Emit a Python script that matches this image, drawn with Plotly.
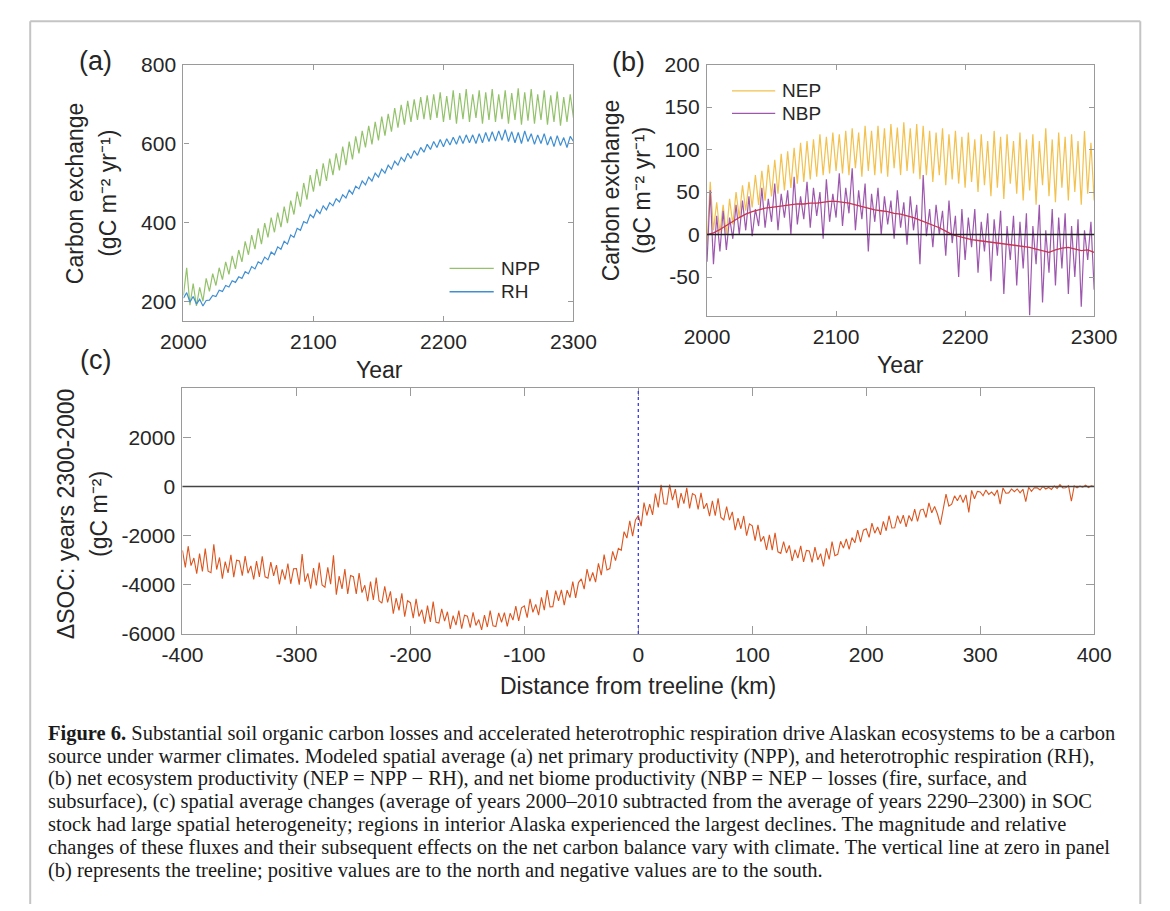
import plotly.graph_objects as go

W, H = 1170, 911


def px(x):
    return x / W


def py(y):
    return 1 - y / H


SANS = "Liberation Sans, Arial, Helvetica, sans-serif"
SERIF = "Liberation Serif, Times New Roman, serif"

# ---------------- data ----------------
# panels (a) and (b): model years, 2.5-year steps 2000..2300
years = [2000 + 2.5 * i for i in range(121)]

npp = [
    215, 285, 190, 245, 188, 235, 200, 258, 225, 270,
    240, 285, 255, 300, 268, 315, 282, 330, 300, 352,
    318, 368, 332, 385, 345, 398, 362, 412, 375, 425,
    388, 440, 398, 455, 420, 478, 440, 500, 458, 520,
    478, 535, 492, 550, 505, 562, 520, 575, 532, 592,
    545, 605, 560, 618, 575, 632, 590, 645, 598, 655,
    608, 668, 620, 675, 630, 690, 640, 698, 648, 708,
    655, 712, 660, 718, 662, 722, 660, 725, 665, 730,
    655, 720, 660, 735, 650, 728, 662, 738, 655, 725,
    665, 735, 650, 730, 660, 738, 655, 725, 662, 735,
    650, 728, 660, 740, 648, 730, 658, 738, 650, 725,
    660, 735, 648, 722, 655, 732, 645, 718, 655, 725,
    665,
]

rh = [
    208, 222, 198, 212, 193, 205, 188, 202, 203, 215,
    212, 228, 225, 240, 236, 252, 248, 262, 258, 275,
    270, 288, 282, 300, 295, 312, 305, 325, 318, 338,
    332, 352, 345, 368, 362, 385, 380, 402, 398, 420,
    412, 432, 422, 442, 432, 450, 442, 460, 452, 470,
    462, 482, 472, 492, 485, 505, 495, 515, 505, 525,
    515, 535, 525, 545, 535, 555, 545, 565, 555, 575,
    562, 582, 570, 590, 578, 598, 585, 605, 590, 610,
    592, 612, 596, 616, 598, 620, 600, 622, 602, 622,
    600, 625, 602, 628, 605, 630, 606, 632, 608, 635,
    605, 630, 602, 628, 600, 632, 605, 625, 598, 622,
    600, 625, 596, 618, 592, 620, 595, 615, 590, 618,
    605,
]

nep = [
    -12, 62, 5, 38, 2, 35, 0, 42, 12, 50,
    20, 58, 28, 62, 32, 70, 35, 75, 40, 82,
    45, 88, 48, 95, 52, 98, 55, 102, 60, 108,
    62, 110, 65, 112, 68, 118, 70, 115, 72, 120,
    75, 118, 72, 122, 70, 125, 78, 120, 68, 128,
    75, 122, 70, 128, 72, 125, 68, 130, 78, 126,
    70, 132, 75, 125, 72, 130, 65, 128, 70, 122,
    62, 120, 70, 125, 58, 118, 65, 122, 60, 115,
    55, 120, 62, 112, 50, 118, 58, 110, 45, 122,
    55, 115, 42, 118, 60, 110, 48, 120, 40, 112,
    52, 118, 35, 110, 58, 125, 45, 112, 38, 120,
    55, 115, 40, 118, 50, 110, 35, 122, 48, 108,
    40,
]

nbp = [
    -32, 52, -35, 22, -20, 28, -18, 20, -5, 35,
    0, 40, 5, 45, -2, 30, 10, 55, 8, 42,
    15, 60, 5, 48, 20, 52, 0, 68, 12, 45,
    18, 62, 8, 55, 22, 50, -5, 65, 15, 48,
    20, 72, 10, 55, 25, 78, 5, 52, 18, 60,
    -20, 48, 15, 55, 0, 45, 12, 40, -5, 52,
    8, 38, -12, 45, 5, 35, -35, 70, -2, 30,
    -15, 35, 0, 28, -25, 40, -10, 22, -50, 30,
    -30, 20, -15, 30, -45, 15, -20, 25, -55, 18,
    -25, 28, -70, 10, -30, 22, -60, 15, -40, 25,
    -95, 10, -35, 35, -80, 5, -45, 30, -60, 20,
    -40, 25, -70, 10, -50, 18, -85, 5, -30, 15,
    -65,
]

# smoothed NBP, 5-year steps
smooth_years = [2000 + 5 * i for i in range(61)]
nbp_smooth = [
    0, 2, 6, 11, 16, 20, 24, 27, 29, 31,
    32, 33, 34, 35, 36, 36, 37, 37, 38, 39,
    39, 38, 37, 35, 33, 31, 29, 28, 27, 25,
    24, 22, 20, 17, 14, 11, 8, 4, 0, -2,
    -4, -6, -7, -8, -9, -10, -11, -12, -13, -14,
    -15, -17, -19, -21, -18, -16, -15, -17, -19, -18,
    -21,
]

# panel (c): distance from treeline, 2.5-km steps -400..400
distance_km = [-400 + 2.5 * i for i in range(321)]
delta_soc = [
    -2600, -3290, -2430, -3220, -2910, -3550, -2730, -3460, -2530, -3450,
    -3510, -2350, -3380, -2890, -3750, -3060, -3520, -2780, -3690, -3000,
    -3030, -3630, -2835, -3530, -3230, -3785, -3040, -3685, -2845, -3675,
    -3730, -3075, -3635, -3200, -3980, -3370, -3795, -3135, -3960, -3350,
    -3340, -4000, -2750, -3880, -3540, -4155, -3320, -4030, -3095, -4010,
    -4100, -3295, -3975, -2800, -4400, -3650, -4165, -3360, -4370, -3620,
    -3670, -4370, -3520, -4320, -4020, -4670, -3870, -4620, -3710, -4650,
    -4750, -4060, -4720, -4270, -5180, -4540, -5040, -4350, -5300, -4650,
    -4730, -5355, -4575, -5290, -5015, -5585, -4850, -5510, -4685, -5525,
    -5560, -4980, -5480, -5100, -5800, -5260, -5640, -5055, -5790, -5240,
    -5280, -5745, -5125, -5655, -5415, -5835, -5235, -5720, -5050, -5675,
    -5700, -5145, -5525, -5135, -5690, -5160, -5435, -4870, -5470, -4940,
    -4860, -5340, -4570, -5120, -4800, -5240, -4510, -5030, -4220, -4900,
    -4890, -4240, -4660, -4210, -4830, -4220, -4520, -3870, -4530, -3910,
    -3760, -4180, -3360, -3860, -3500, -3890, -3130, -3610, -2770, -3400,
    -3340, -2640, -3020, -2520, -2600, -1840, -2100, -1400, -2020, -1360,
    -1180, -1615, -655, -1180, -715, -1155, -290, -850, 65, -705,
    -720, 80, -555, -105, -880, -270, -695, -50, -890, -290,
    -360, -930, -260, -910, -680, -1210, -580, -1190, -480, -1260,
    -1360, -820, -1370, -1030, -1780, -1290, -1720, -1200, -2000, -1520,
    -1600, -2200, -1560, -2240, -2030, -2580, -1970, -2590, -1890, -2660,
    -2720, -2245, -2705, -2395, -3030, -2570, -2915, -2420, -3070, -2600,
    -2620, -3085, -2465, -2990, -2735, -3250, -2520, -2970, -2245, -2815,
    -2760, -2230, -2510, -2130, -2560, -2080, -2290, -1780, -2260, -1780,
    -1720, -2070, -1490, -1900, -1650, -1970, -1420, -1800, -1190, -1690,
    -1680, -1190, -1510, -1170, -1640, -1180, -1410, -920, -1420, -960,
    -920, -1260, -670, -1070, -810, -1120, -1550, -930, -310, -800,
    -720, -380, -580, -340, -650, -340, -1050, -160, -500, -200,
    -225, -378, -142, -320, -222, -363, -140, -720, -57, -273,
    -260, -100, -210, -100, -260, -110, -620, -30, -200, -50,
    -55, -143, 3, -100, -37, -118, 20, -75, 73, -58,
    -50, 30, -600, 25, -55, 15, -25, 50, -40, 30,
    0,
]

# tick labels
year_ticks = [2000, 2100, 2200, 2300]
year_ticktext = ["2000", "2100", "2200", "2300"]
a_yticks = [200, 400, 600, 800]
a_yticktext = ["200", "400", "600", "800"]
b_yticks = [-50, 0, 50, 100, 150, 200]
b_yticktext = ["-50", "0", "50", "100", "150", "200"]
c_xticks = [-400, -300, -200, -100, 0, 100, 200, 300, 400]
c_xticktext = ["-400", "-300", "-200", "-100", "0", "100", "200", "300", "400"]
c_yticks = [-6000, -4000, -2000, 0, 2000]
c_yticktext = ["-6000", "-4000", "-2000", "0", "2000"]

caption_lines = [
    "<b>Figure 6.</b> Substantial soil organic carbon losses and accelerated heterotrophic respiration drive Alaskan ecosystems to be a carbon",
    "source under warmer climates. Modeled spatial average (a) net primary productivity (NPP), and heterotrophic respiration (RH),",
    "(b) net ecosystem productivity (NEP = NPP \u2212 RH), and net biome productivity (NBP = NEP \u2212 losses (fire, surface, and",
    "subsurface), (c) spatial average changes (average of years 2000\u20132010 subtracted from the average of years 2290\u20132300) in SOC",
    "stock had large spatial heterogeneity; regions in interior Alaska experienced the largest declines. The magnitude and relative",
    "changes of these fluxes and their subsequent effects on the net carbon balance vary with climate. The vertical line at zero in panel",
    "(b) represents the treeline; positive values are to the north and negative values are to the south.",
]

# ---------------- style ----------------
NPP_C = "#93c26b"
RH_C = "#3f8fd2"
NEP_C = "#f2c14e"
NBP_C = "#9d58ae"
SMOOTH_C = "#c7344f"
SOC_C = "#dc5620"
AX_C = "#9a9a9a"
TXT = "#262626"

fig = go.Figure()

fig.add_trace(go.Scatter(x=years, y=npp, mode="lines", name="NPP",
                         line=dict(color=NPP_C, width=1.2), xaxis="x", yaxis="y"))
fig.add_trace(go.Scatter(x=years, y=rh, mode="lines", name="RH",
                         line=dict(color=RH_C, width=1.2), xaxis="x", yaxis="y"))
fig.add_trace(go.Scatter(x=years, y=nep, mode="lines", name="NEP",
                         line=dict(color=NEP_C, width=1.2), xaxis="x2", yaxis="y2"))
fig.add_trace(go.Scatter(x=years, y=nbp, mode="lines", name="NBP",
                         line=dict(color=NBP_C, width=1.2), xaxis="x2", yaxis="y2"))
fig.add_trace(go.Scatter(x=smooth_years, y=nbp_smooth, mode="lines", name="NBP smoothed",
                         line=dict(color=SMOOTH_C, width=1.3), xaxis="x2", yaxis="y2"))
fig.add_trace(go.Scatter(x=distance_km, y=delta_soc, mode="lines", name="\u0394SOC",
                         line=dict(color=SOC_C, width=1.1), xaxis="x3", yaxis="y3"))


def axis_common(ticklen):
    return dict(
        ticks="inside", ticklen=ticklen, tickwidth=1, tickcolor=AX_C,
        showline=True, linecolor=AX_C, linewidth=1.3, mirror="ticks",
        showgrid=False, zeroline=False,
        tickfont=dict(family=SANS, size=21, color=TXT),
        tickmode="array", ticklabelstandoff=2,
    )


fig.update_layout(
    width=W, height=H,
    margin=dict(l=0, r=0, t=0, b=0),
    paper_bgcolor="white", plot_bgcolor="white",
    showlegend=False,
    font=dict(family=SANS, color=TXT),
    xaxis=dict(domain=[px(167), px(573)], anchor="y", range=[2000, 2300],
               tickvals=year_ticks, ticktext=year_ticktext, **axis_common(5)),
    yaxis=dict(domain=[py(317), py(54)], anchor="x", range=[150, 800],
               tickvals=a_yticks, ticktext=a_yticktext, **axis_common(5)),
    xaxis2=dict(domain=[px(712), px(1115)], anchor="y2", range=[2000, 2300],
                tickvals=year_ticks, ticktext=year_ticktext, **axis_common(5)),
    yaxis2=dict(domain=[py(312), py(54)], anchor="x2", range=[-96, 200],
                tickvals=b_yticks, ticktext=b_yticktext, **axis_common(5)),
    xaxis3=dict(domain=[px(166), px(1115)], anchor="y3", range=[-400, 400],
                tickvals=c_xticks, ticktext=c_xticktext, **axis_common(8)),
    yaxis3=dict(domain=[py(638), py(386)], anchor="x3", range=[-6000, 4000],
                tickvals=c_yticks, ticktext=c_yticktext, **axis_common(8)),
)

shapes = [
    # zero line panel (b)
    dict(type="line", xref="x2 domain", x0=0, x1=1, yref="y2", y0=0, y1=0,
         line=dict(color="#1e1e1e", width=1.5), layer="above"),
    # zero line panel (c)
    dict(type="line", xref="x3 domain", x0=0, x1=1, yref="y3", y0=0, y1=0,
         line=dict(color="#444444", width=1.5), layer="above"),
    # treeline
    dict(type="line", xref="x3", x0=0, x1=0, yref="y3 domain", y0=0, y1=1,
         line=dict(color="#3c3ce0", width=1.3, dash="dot"), layer="above"),
    # outer frame
    dict(type="line", xref="paper", yref="paper", x0=px(7.5), x1=px(7.5), y0=py(9.5), y1=py(915),
         line=dict(color="#c4c4c4", width=2)),
    dict(type="line", xref="paper", yref="paper", x0=px(7.5), x1=px(1163), y0=py(9.5), y1=py(9.5),
         line=dict(color="#c4c4c4", width=2)),
    dict(type="line", xref="paper", yref="paper", x0=px(1163), x1=px(1163), y0=py(9.5), y1=py(915),
         line=dict(color="#c4c4c4", width=2)),
]

# legend samples
legend_items = [
    (444, 490, 263, NPP_C, "NPP"),
    (444, 490, 287, RH_C, "RH"),
    (738, 783, 81, NEP_C, "NEP"),
    (738, 783, 104, NBP_C, "NBP"),
]
annotations = []
for x0, x1, yy, col, lab in legend_items:
    shapes.append(dict(type="line", xref="paper", yref="paper", x0=px(x0), x1=px(x1),
                       y0=py(yy), y1=py(yy), line=dict(color=col, width=1.3)))
    annotations.append(dict(text=lab, x=px(x1 + 5), y=py(yy), xref="paper", yref="paper",
                            xanchor="left", yanchor="middle", showarrow=False,
                            font=dict(family=SANS, size=19, color=TXT)))


def ann(text, x, y, size, angle=0, xanchor="center", family=SANS):
    annotations.append(dict(text=text, x=px(x), y=py(y), xref="paper", yref="paper",
                            xanchor=xanchor, yanchor="middle", showarrow=False,
                            textangle=angle, font=dict(family=family, size=size, color=TXT)))


# panel labels
ann("(a)", 75, 50, 27)
ann("(b)", 630, 51, 27)
ann("(c)", 75, 357, 27)

# axis titles
ann("Year", 371, 367, 23)
ann("Year", 913, 362, 23)
ann("Distance from treeline (km)", 640, 691, 23)
ann("Carbon exchange", 54, 186, 23, -90)
ann("(gC m\u207b\u00b2 yr\u207b\u00b9)", 89, 186, 23, -90)
ann("Carbon exchange", 612, 183, 23, -90)
ann("(gC m\u207b\u00b2 yr\u207b\u00b9)", 645, 183, 23, -90)
ann("\u0394SOC: years 2300-2000", 45, 515, 23, -90)
ann("(gC m\u207b\u00b2)", 79, 515, 23, -90)

# caption
for i, line in enumerate(caption_lines):
    annotations.append(dict(text=line, x=px(24), y=py(740 + 23.4 * i), xref="paper", yref="paper",
                            xanchor="left", yanchor="middle", showarrow=False,
                            font=dict(family=SERIF, size=20.5, color="#1a1a1a")))

fig.update_layout(shapes=shapes, annotations=annotations)

fig.write_html("out.html")
